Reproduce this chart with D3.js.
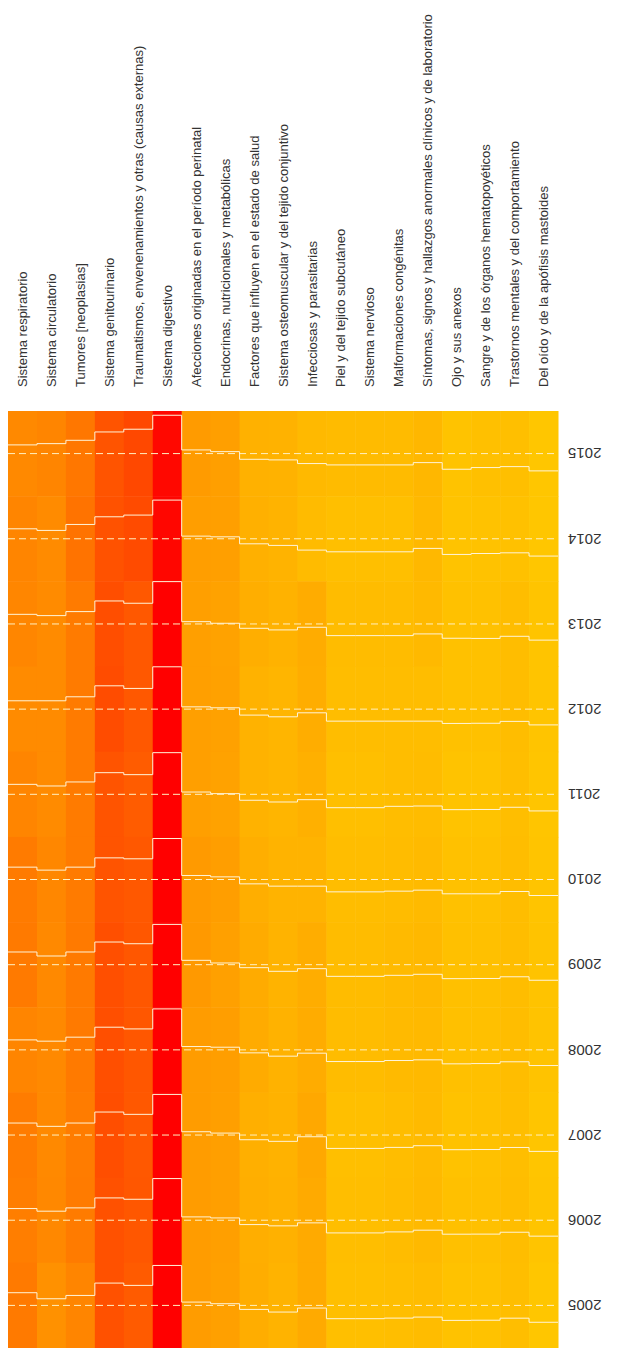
<!DOCTYPE html>
<html>
<head>
<meta charset="utf-8">
<script src="https://cdn.jsdelivr.net/npm/d3@7"></script>
<style>
  body { margin: 0; background: #fff; }
  .label { font-family: "Liberation Sans", Arial, sans-serif; font-size: 13px; fill: #333; }
  .year { font-family: "Liberation Sans", Arial, sans-serif; font-size: 15px; fill: #333; }
</style>
</head>
<body>
<div id="chart"></div>
<script>
const categories = [
  "Sistema respiratorio",
  "Sistema circulatorio",
  "Tumores [neoplasias]",
  "Sistema genitourinario",
  "Traumatismos, envenenamientos y otras (causas externas)",
  "Sistema digestivo",
  "Afecciones originadas en el período perinatal",
  "Endocrinas, nutricionales y metabólicas",
  "Factores que influyen en el estado de salud",
  "Sistema osteomuscular y del tejido conjuntivo",
  "Infecciosas y parasitarias",
  "Piel y del tejido subcutáneo",
  "Sistema nervioso",
  "Malformaciones congénitas",
  "Síntomas, signos y hallazgos anormales clínicos y de laboratorio",
  "Ojo y sus anexos",
  "Sangre y de los órganos hematopoyéticos",
  "Trastornos mentales y del comportamiento",
  "Del oído y de la apófisis mastoides"
];

const years = ["2015", "2014", "2013", "2012", "2011", "2010", "2009", "2008", "2007", "2006", "2005"];

// valores (escala 0-100 entre el mínimo y el máximo de los cortes)
const v2015 = [60.2, 61.7, 65.6, 75.4, 78.6, 95.0, 54.3, 52.3, 43.3, 42.6, 38.3, 36.7, 36.7, 36.7, 39.4, 31.6, 33.6, 34.7, 29.7];
const v2014 = [61.7, 59.8, 66.8, 75.8, 77.8, 95.4, 53.1, 52.3, 44.1, 42.2, 36.7, 34.7, 34.7, 34.7, 38.7, 31.6, 32.7, 33.5, 29.7];
const v2013 = [61.3, 59.8, 64.5, 77.0, 74.3, 99.7, 52.7, 50.8, 44.9, 43.0, 46.1, 36.3, 36.3, 36.3, 38.3, 33.2, 33.0, 35.5, 31.0];
const v2012 = [59.8, 59.8, 64.5, 77.4, 74.3, 99.7, 52.7, 51.6, 43.0, 41.0, 45.7, 35.9, 35.9, 35.9, 35.9, 33.2, 33.4, 35.6, 31.5];
const v2011 = [61.7, 59.8, 64.5, 75.4, 73.1, 98.9, 52.7, 50.8, 43.0, 41.0, 43.7, 34.3, 34.3, 35.9, 36.3, 32.0, 32.2, 34.8, 30.5];
const v2010 = [64.5, 61.0, 64.5, 75.4, 74.3, 98.1, 54.7, 53.1, 44.9, 42.2, 42.2, 35.5, 35.5, 36.3, 37.5, 33.2, 33.2, 35.9, 31.2];
const v2009 = [64.9, 60.2, 64.9, 76.6, 74.6, 97.3, 55.1, 52.0, 46.5, 42.2, 45.3, 36.3, 36.3, 37.5, 38.7, 33.6, 33.8, 35.8, 31.7];
const v2008 = [61.7, 60.2, 64.9, 76.6, 74.6, 98.1, 53.9, 53.1, 46.5, 42.6, 46.1, 36.3, 36.3, 37.5, 38.3, 33.6, 33.9, 36.0, 31.6];
const v2007 = [64.1, 60.2, 64.1, 77.0, 74.3, 97.7, 53.9, 52.3, 44.5, 42.6, 48.0, 34.3, 34.3, 35.5, 37.5, 32.8, 33.0, 35.4, 30.8];
const v2006 = [63.7, 60.6, 64.5, 76.2, 74.6, 98.9, 53.9, 52.7, 44.9, 43.4, 46.9, 35.1, 35.1, 36.3, 38.3, 33.6, 33.7, 35.9, 31.3];
const v2005 = [64.9, 57.8, 61.7, 76.2, 73.5, 96.9, 53.9, 52.0, 45.3, 42.2, 46.9, 34.4, 34.4, 35.1, 36.3, 32.4, 32.6, 35.0, 30.2];

const values = [v2015, v2014, v2013, v2012, v2011, v2010, v2009, v2008, v2007, v2006, v2005];
const breaks = [0, 100];
const colorStops = [30, 44, 54, 62, 77, 97];
const colorRamp = ["#ffc600", "#ffb000", "#ff9c00", "#ff8400", "#ff4e00", "#ff0000"];

const width = 622;
const height = 1348;
const mapLeft = 8;
const mapRight = 558;
const mapTop = 411;
const mapBottom = 1348;

const svg = d3.select("#chart")
  .append("svg")
  .attr("width", width)
  .attr("height", height);

const x = d3.scaleBand().domain(categories).range([mapLeft, mapRight]);
const y = d3.scaleBand().domain(years).range([mapTop, mapBottom]);
const trace = d3.scaleLinear().domain(breaks).range([y.bandwidth(), 0]);
const color = d3.scaleLinear().domain(colorStops).range(colorRamp).clamp(true);

const cells = years.flatMap((yr, i) => categories.map((c, j) => ({ year: yr, cat: c, v: values[i][j] })));

svg.selectAll("rect.cell")
  .data(cells)
  .enter()
  .append("rect")
  .attr("class", "cell")
  .attr("x", d => x(d.cat))
  .attr("y", d => y(d.year))
  .attr("width", x.bandwidth() + 0.5)
  .attr("height", y.bandwidth() + 0.5)
  .attr("fill", d => color(d.v));

// linea de referencia (mediana de los cortes)
svg.selectAll("line.hline")
  .data(years)
  .enter()
  .append("line")
  .attr("class", "hline")
  .attr("x1", mapLeft)
  .attr("x2", mapRight)
  .attr("y1", d => y(d) + trace(d3.median(breaks)))
  .attr("y2", d => y(d) + trace(d3.median(breaks)))
  .attr("stroke", "#fff0c0")
  .attr("stroke-width", 1)
  .attr("stroke-dasharray", "7,4");

const line = d3.line();
svg.selectAll("path.trace")
  .data(years)
  .enter()
  .append("path")
  .attr("class", "trace")
  .attr("fill", "none")
  .attr("stroke", "#fff4d8")
  .attr("stroke-width", 1)
  .attr("d", (yr, i) => line(categories.flatMap((c, j) => {
    const yy = y(yr) + trace(values[i][j]);
    return [[x(c), yy], [x(c) + x.bandwidth(), yy]];
  })));

svg.selectAll("text.label")
  .data(categories)
  .enter()
  .append("text")
  .attr("class", "label")
  .attr("transform", d => "translate(" + (x(d) + x.bandwidth() / 2) + ",387) rotate(-90)")
  .attr("dy", "0.35em")
  .attr("text-anchor", "start")
  .text(d => d);

svg.selectAll("text.year")
  .data(years)
  .enter()
  .append("text")
  .attr("class", "year")
  .attr("transform", d => "translate(568," + (y(d) + y.bandwidth() / 2) + ") rotate(180)")
  .attr("dy", "0.35em")
  .attr("text-anchor", "end")
  .text(d => d);
</script>
</body>
</html>
